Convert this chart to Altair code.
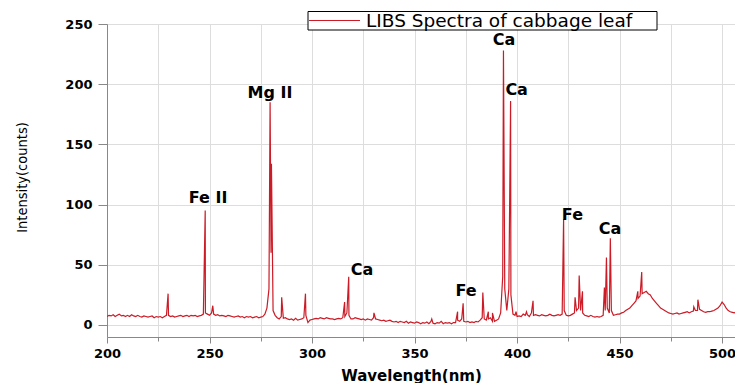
import altair as alt
import pandas as pd

# ---- data ----
baseline_start = 200
baseline_counts = [
    7, 8, 7.5, 8.5, 7, 8, 9, 7.5, 8, 7,
    8, 7, 8.5, 7.5, 7, 8, 7, 6.5, 7.5, 7,
    6.5, 7, 7.5, 6, 7, 6.5, 7, 6, 7, 8,
    8, 7, 7.5, 6.5, 7, 7.5, 8, 7, 7.5, 8,
    7, 8, 7.5, 8, 7, 7.5, 8, 9, 10, 9,
    8, 10, 9, 8, 8.5, 7.5, 8, 7.5, 7, 8,
    7.5, 7, 6.5, 7, 7.5, 6.5, 7, 6, 7, 6.5,
    7, 6, 6.5, 7, 6, 6.5, 7, 9, 14, 30,
    60, 12, 8, 6, 5, 7, 5.5, 6, 5, 4.5,
    5, 4, 5.5, 4, 4.5, 5, 6, 8, 2, 4,
    4.5, 5, 5.5, 5, 6, 5.5, 5, 6, 5.5, 5,
    5, 4.5, 5, 5.5, 5, 6, 7, 10, 8, 5,
    5, 6, 5.5, 5, 4.5, 5, 4, 5, 4.5, 4,
    6, 5, 4.5, 4, 3.5, 4, 3, 3.5, 4, 3,
    2.5, 3, 2, 3, 2.5, 2, 3, 1.5, 2.5, 2,
    1.5, 2.5, 2, 1, 2, 1.5, 2.5, 1, 3, 1.5,
    1, 2, 1.5, 3, 1, 2, 1.5, 2, 1, 2,
    2, 4, 3, 5, 3, 2.5, 3, 2, 2.5, 2,
    3, 2.5, 4, 6, 5, 4, 5, 6, 3, 3,
    4, 5, 10, 40, 30, 12, 30, 25, 9, 8,
    7, 7.5, 7, 9, 8, 8.5, 7, 10, 8, 8.5,
    8, 7.5, 8.5, 8, 7.5, 8, 9, 8, 7.5, 8,
    8.5, 8, 9, 12, 8, 7.5, 8, 9, 10, 12,
    14, 12, 10, 8, 7.5, 7, 8, 7, 6.5, 7,
    6.5, 7, 8, 12, 14, 10, 12, 8, 8.5, 9,
    9, 10, 10.5, 12, 13, 14, 16, 18, 20, 22,
    24, 26, 27, 28, 26, 25, 22, 20, 18, 16,
    14, 13, 12, 11, 10, 9.5, 9, 9.5, 10, 9,
    9.5, 10, 10.5, 11, 10, 11, 11.5, 12, 12, 13,
    12, 11, 10.5, 11, 11, 11.5, 12, 13, 14, 16,
    19, 17, 14, 12, 11, 10.5, 10, 11, 10.5, 10,
]
baseline_nm = list(range(baseline_start, baseline_start + len(baseline_counts)))

peak_nm = [229.8, 247.9, 251.6, 279.55, 280.2, 285.2, 296.8, 315.9, 317.9,
           330.2, 358.4, 371.0, 373.7, 383.3, 386.0, 388.0, 393.37, 396.85,
           399.5, 404.6, 407.8, 422.7, 428.3, 430.3, 431.9, 442.6, 443.6,
           445.5, 458.9, 460.8, 486.2, 488.2]
peak_counts = [26, 95, 16, 185, 134, 23, 26, 19, 40,
               10, 5, 11, 18, 27, 11, 10, 228, 186,
               11, 11, 20, 88, 23, 41, 28, 31, 56,
               72, 28, 44, 15, 21]

label_text = ["Fe II", "Mg II", "Ca", "Fe", "Ca", "Ca", "Fe", "Ca"]
label_nm = [249.3, 279.5, 324.4, 375.1, 393.7, 399.8, 427.0, 445.4]
label_counts = [105.8, 193.0, 45.8, 28.3, 236.5, 195.0, 91.7, 79.8]

series_name = "LIBS Spectra of cabbage leaf"

spec = pd.DataFrame({
    "nm": baseline_nm + peak_nm,
    "counts": baseline_counts + peak_counts,
}).sort_values("nm").reset_index(drop=True)

labels = pd.DataFrame({"text": label_text, "nm": label_nm, "counts": label_counts})
one = pd.DataFrame({"k": [0]})

RED = "#cc1b26"
FONT = "DejaVu Sans"

x_scale = alt.Scale(domain=[200, 506.3], nice=False, zero=False)
y_scale = alt.Scale(domain=[-10, 250], nice=False, zero=False)

x_axis = alt.Axis(
    values=list(range(200, 525, 25)),
    labelExpr="datum.value % 50 === 0 ? datum.label : ''",
    tickSize={"condition": {"test": "datum.value % 50 === 0", "value": 6}, "value": 4},
    title="Wavelength(nm)",
    titleFont=FONT, titleFontSize=15, titleFontWeight="bold",
    titleX=304, titleY=38, titleBaseline="middle", titleAlign="center",
    labelFont=FONT, labelFontSize=13, labelFontWeight="bold", labelPadding=4,
    labelFlush=False, labelOverlap=False,
)
y_axis = alt.Axis(
    values=list(range(0, 275, 25)),
    labelExpr="datum.value % 50 === 0 ? datum.label : ''",
    tickSize={"condition": {"test": "datum.value % 50 === 0", "value": 9}, "value": 5},
    title="Intensity(counts)",
    titleFont="Liberation Sans Narrow, DejaVu Sans Condensed, Liberation Sans",
    titleFontSize=14.5, titleFontWeight="normal",
    titleAngle=270, titleX=-85, titleY=153, titleAlign="center", titleBaseline="middle",
    labelFont=FONT, labelFontSize=13, labelFontWeight="bold", labelPadding=6,
    labelFlush=False, labelOverlap=False,
)

line = alt.Chart(spec).mark_line(clip=True, strokeWidth=1.2, color=RED).encode(
    x=alt.X("nm:Q", scale=x_scale, axis=x_axis),
    y=alt.Y("counts:Q", scale=y_scale, axis=y_axis),
    order="nm:Q",
)

text = alt.Chart(labels).mark_text(
    font=FONT, fontSize=16, fontWeight="bold", color="black",
    align="center", baseline="middle",
).encode(
    x=alt.X("nm:Q", scale=x_scale),
    y=alt.Y("counts:Q", scale=y_scale),
    text="text:N",
)

# legend drawn as a framed box with a line sample and label
legend_box = alt.Chart(one).mark_rect(fill="white", stroke="black", strokeWidth=1).encode(
    x=alt.value(201), x2=alt.value(550), y=alt.value(-12.5), y2=alt.value(6)
)
legend_line = alt.Chart(one).mark_rule(color=RED, strokeWidth=1).encode(
    x=alt.value(202), x2=alt.value(253), y=alt.value(-3.5)
)
legend_text = alt.Chart(one).mark_text(
    font=FONT, fontSize=18.5, color="black", align="left", baseline="middle"
).encode(x=alt.value(259), y=alt.value(-3), text=alt.value(series_name))

chart = alt.layer(line, text, legend_box, legend_line, legend_text).properties(
    width=628, height=313,
    autosize=alt.AutoSizeParams(type="none"),
    padding={"left": 107, "top": 24, "right": 0, "bottom": 46},
).configure_axis(
    grid=False, domainColor="black", domainWidth=1.5, tickColor="black",
    tickWidth=1.2, labelColor="black", titleColor="black",
).configure_view(stroke=None).configure(background="white")

chart.save("out.html", embed_options={"renderer": "svg", "actions": False})
